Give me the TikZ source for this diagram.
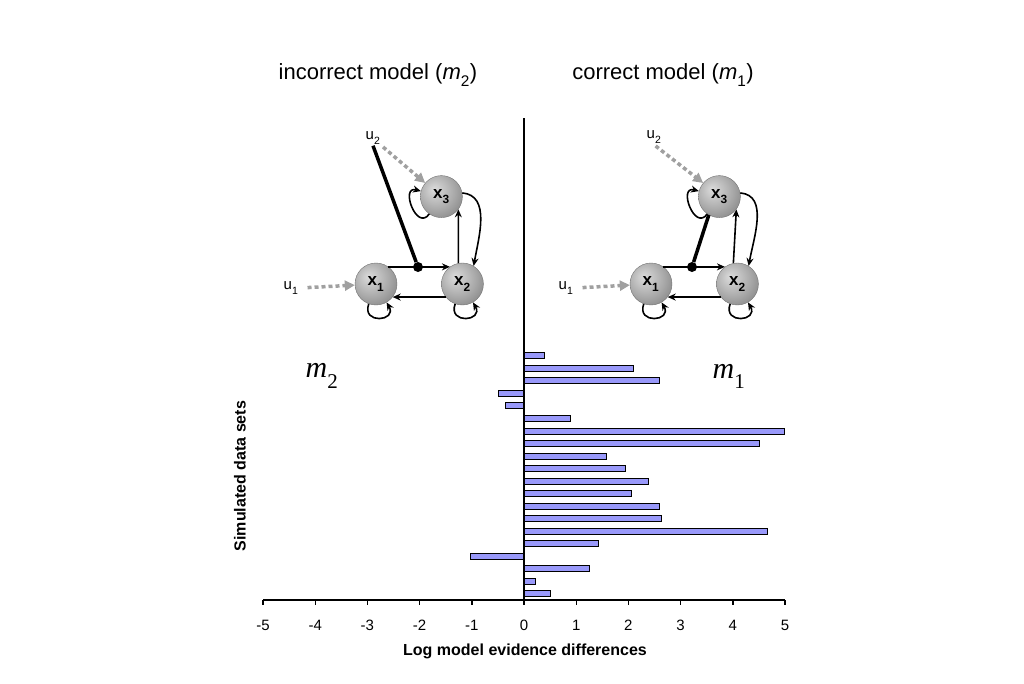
\documentclass[tikz,border=0pt]{standalone}
\usepackage{fontspec}
\setmainfont{Liberation Sans}
\newfontfamily\timesfont{Liberation Serif}
\usepackage{xcolor}
\usepackage{tikz}
\usetikzlibrary{positioning, arrows.meta, calc}

\definecolor{barblue}{RGB}{153,153,250}
\definecolor{inputgray}{RGB}{160,160,160}
\pgfdeclareradialshading{sphere}{\pgfpoint{-9bp}{9bp}}{color(0bp)=(black!14); color(22bp)=(black!34); color(48bp)=(black!60); color(70bp)=(black!70)}
\newcommand{\lowsub}[1]{\raisebox{-0.35ex}{\textsubscript{#1}}}

\begin{document}
\begin{tikzpicture}[
    x=1pt, y=-1pt,
    statenode/.style={circle, minimum size=42pt, inner sep=0pt, shading=sphere, draw=black!55, line width=0.4pt, font=\bfseries\fontsize{17}{17}\selectfont},
    hubdot/.style={circle, fill=black, minimum size=10pt, inner sep=0pt},
    link/.style={line width=1.6pt, -{Stealth[length=8pt, width=7pt]}},
    thickline/.style={line width=3.5pt},
    inputarrow/.style={draw=inputgray, line width=3.5pt, dash pattern=on 4pt off 3pt, -{Triangle[length=10pt, width=10pt]}},
    inputlabel/.style={font=\fontsize{15}{15}\selectfont, inner sep=1pt},
    title/.style={font=\fontsize{22}{22}\selectfont},
    modellabel/.style={font=\timesfont\fontsize{30}{30}\selectfont},
    axislabel/.style={font=\bfseries\fontsize{16}{16}\selectfont},
    ticklabel/.style={font=\fontsize{15}{15}\selectfont},
    axisline/.style={line width=1.4pt},
    evbar/.style={draw=black, line width=0.8pt, fill=barblue}
]
\useasboundingbox (0,0) rectangle (1024,683);

% titles
\node[title](ttlinc) at (378,75){incorrect model (\textit{m}\lowsub{2})};
\node[title](ttlcor) at (663,75){correct model (\textit{m}\lowsub{1})};

% incorrect model
\node[statenode](x1L) at (376,284){x\lowsub{1}};
\node[statenode](x2L)[right = 44pt of x1L]{x\lowsub{2}};
\node[statenode](x3L)[above = 45pt of x2L, xshift=-21pt]{x\lowsub{3}};
\node[hubdot](dotL) at ($(x1L)+(42,-17)$){};
\node[inputlabel](u1L) at (291,288){u\lowsub{1}};
\node[inputlabel](u2L) at (373,138){u\lowsub{2}};
\draw[inputarrow, shorten <=8pt] (u1L.east) -- (x1L);
\draw[inputarrow, shorten <=2pt] (u2L.south east) -- (x3L.140);
\draw[thickline] (u2L.south) -- (dotL);
\draw[link] (x1L.54) -- (x2L.126);
\draw[link] (x2L.-142) -- (x1L.-38);
\draw[link] (x2L.101) -- (x3L.-37);
\draw[link] (x3L.10) to[out=-5, in=80] (x2L.58);
\draw[link] (x1L) to[out=-110, in=-60, distance=22pt] (x1L);
\draw[link] (x2L) to[out=-110, in=-60, distance=22pt] (x2L);
\draw[link] (x3L) to[out=-125, in=165, distance=22pt] (x3L);

% correct model
\node[statenode](x1R) at (651,284){x\lowsub{1}};
\node[statenode](x2R)[right = 44pt of x1R]{x\lowsub{2}};
\node[statenode](x3R)[above = 45pt of x2R, xshift=-18pt]{x\lowsub{3}};
\node[hubdot](dotR) at ($(x1R)+(41,-17)$){};
\node[inputlabel](u1R) at (566,288){u\lowsub{1}};
\node[inputlabel](u2R) at (654,137){u\lowsub{2}};
\draw[inputarrow, shorten <=8pt] (u1R.east) -- (x1R);
\draw[inputarrow, shorten <=2pt] (u2R.south) -- (x3R.140);
\draw[thickline] (x3R.240) -- (dotR);
\draw[link] (x1R.54) -- (x2R.126);
\draw[link] (x2R.-142) -- (x1R.-38);
\draw[link] (x2R.101) -- (x3R.-37);
\draw[link] (x3R.10) to[out=-5, in=80] (x2R.58);
\draw[link] (x1R) to[out=-110, in=-60, distance=22pt] (x1R);
\draw[link] (x2R) to[out=-110, in=-60, distance=22pt] (x2R);
\draw[link] (x3R) to[out=-125, in=165, distance=22pt] (x3R);

% model labels
\node[modellabel](mtwo) at (322,376){\itshape m\lowsub{\upshape 2}};
\node[modellabel](mone) at (729,376){\itshape m\lowsub{\upshape 1}};

% bars
\begin{scope}[shift={(524,0)}, x=52.2pt]
\draw[evbar] (0,352.7) rectangle (0.39,358.7);
\draw[evbar] (0,365.2) rectangle (2.09,371.2);
\draw[evbar] (0,377.8) rectangle (2.59,383.8);
\draw[evbar] (0,390.3) rectangle (-0.49,396.3);
\draw[evbar] (0,402.8) rectangle (-0.35,408.8);
\draw[evbar] (0,415.4) rectangle (0.89,421.4);
\draw[evbar] (0,427.9) rectangle (4.98,433.9);
\draw[evbar] (0,440.4) rectangle (4.51,446.4);
\draw[evbar] (0,452.9) rectangle (1.58,458.9);
\draw[evbar] (0,465.5) rectangle (1.95,471.5);
\draw[evbar] (0,478.0) rectangle (2.38,484.0);
\draw[evbar] (0,490.5) rectangle (2.05,496.5);
\draw[evbar] (0,503.1) rectangle (2.59,509.1);
\draw[evbar] (0,515.6) rectangle (2.64,521.6);
\draw[evbar] (0,528.1) rectangle (4.66,534.1);
\draw[evbar] (0,540.7) rectangle (1.43,546.7);
\draw[evbar] (0,553.2) rectangle (-1.03,559.2);
\draw[evbar] (0,565.7) rectangle (1.25,571.7);
\draw[evbar] (0,578.3) rectangle (0.21,584.3);
\draw[evbar] (0,590.8) rectangle (0.51,596.8);
\end{scope}

% axes
\coordinate (origin) at (524,600);
\coordinate (ytop) at (524,118);
\coordinate (xmin) at (263,600);
\coordinate (xmax) at (785,600);
\draw[line width=1.8pt] (ytop) -- (origin);
\draw[axisline] (xmin) -- (xmax);
\foreach \v in {-5,...,5}{
  \draw[axisline] (524+52.2*\v,600) -- ++(0,5);
  \node[ticklabel](tick\v) at (524+52.2*\v,625){\v};
}
\node[axislabel](xlab) at (525,651){Log model evidence differences};
\node[axislabel, rotate=90](ylab) at (240,476){Simulated data sets};
\end{tikzpicture}
\end{document}
